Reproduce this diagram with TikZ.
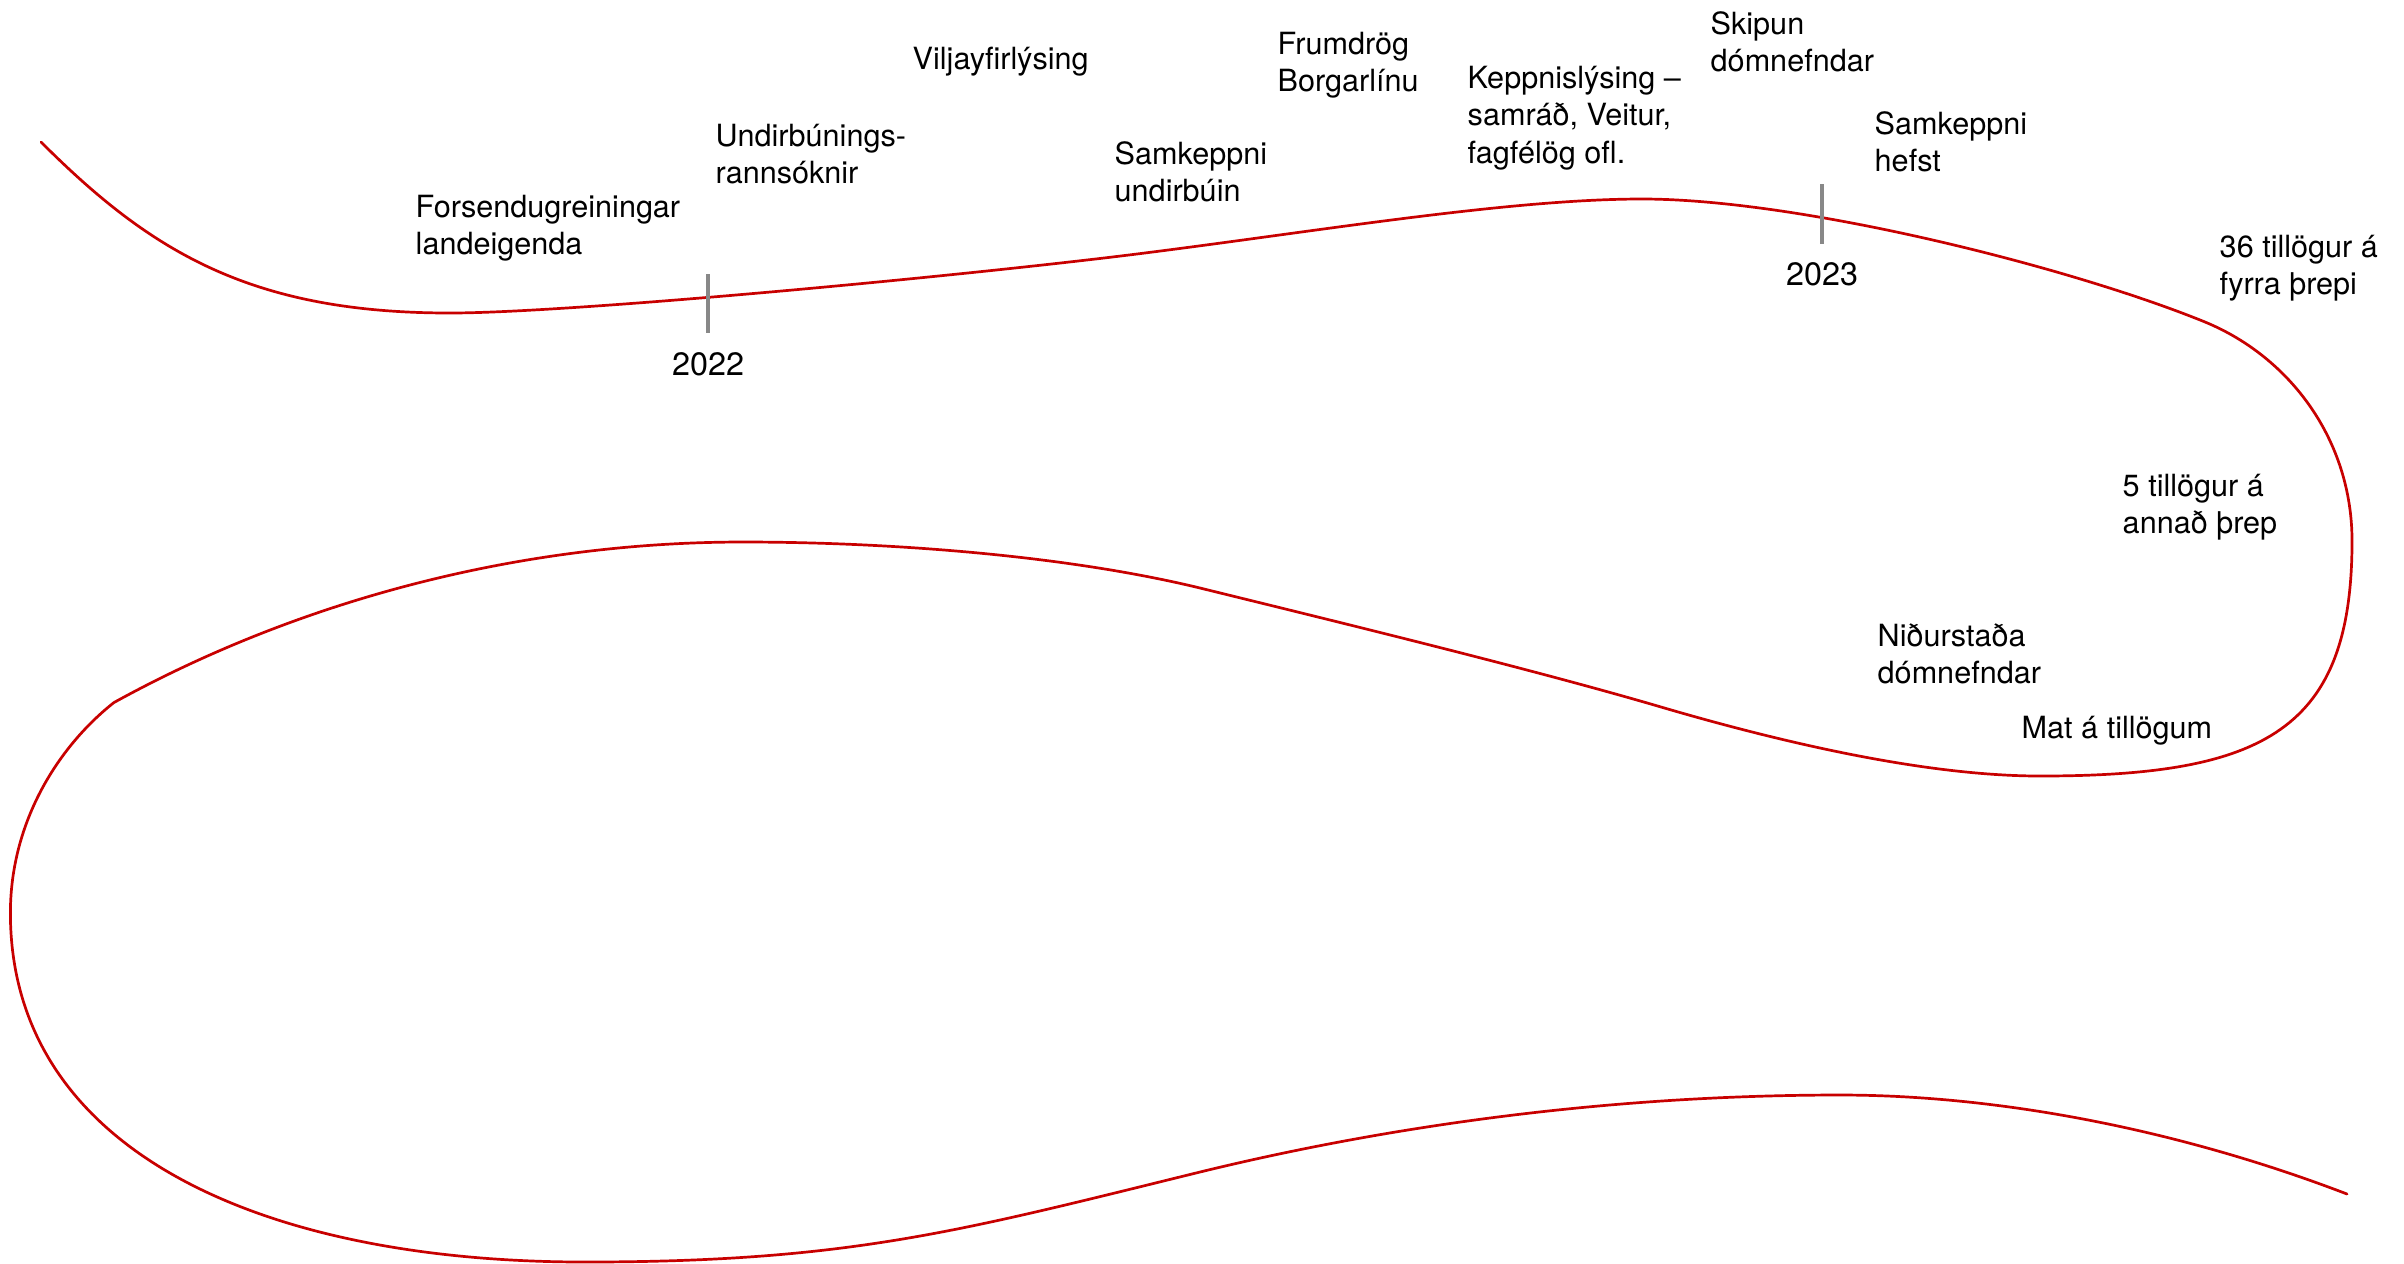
\documentclass[tikz,border=0pt]{standalone}
\usepackage{fontspec}
\setmainfont{TeX Gyre Heros}
\definecolor{curvered}{RGB}{200,0,0}
\definecolor{tickgray}{RGB}{136,136,136}
\newcommand{\mlines}[1]{\begin{tabular}[t]{@{}l@{}}#1\end{tabular}}
\begin{document}
\begin{tikzpicture}[x=0.01cm,y=-0.01cm,
  lbl/.style={anchor=base west, inner sep=0pt, font=\fontsize{8.7}{10.8}\selectfont, text=black},
  yr/.style={anchor=base, inner sep=0pt, font=\fontsize{9.2}{11}\selectfont, text=black},
  road/.style={draw=curvered, line width=0.027cm, line join=round, line cap=round},
  tickmark/.style={draw=tickgray, line width=0.04cm}]
\useasboundingbox (0,0) rectangle (2404,1263);
\fill[white] (0,0) rectangle (2404,1263);
% the timeline curve
\draw[road] (41,142) .. controls (150,251) and (250,313) .. (450,313)
 .. controls (560,313) and (900,282) .. (1104,258)
 .. controls (1290,236) and (1500,199) .. (1642,199)
 .. controls (1800,199) and (2070,267) .. (2205,322)
 .. controls (2290,357) and (2352,440) .. (2352,541)
 .. controls (2352,730) and (2265,776) .. (2040,776)
 .. controls (1920,776) and (1770,739) .. (1661,707)
 .. controls (1530,668.5) and (1330,620) .. (1200,588)
 .. controls (1060,554) and (880,542) .. (743,542)
 .. controls (520,542) and (300,600) .. (114,702.5)
 .. controls (60,745) and (10.4,820) .. (10.4,913)
 .. controls (10.4,1150) and (260,1262) .. (585,1262)
 .. controls (850,1262) and (960,1231) .. (1200,1172)
 .. controls (1380,1128) and (1600,1095) .. (1840,1095)
 .. controls (2000,1095) and (2180,1130) .. (2347,1194);
% year ticks
\coordinate (t22a) at (708,274); \coordinate (t22b) at (708,333);
\coordinate (t23a) at (1822,184); \coordinate (t23b) at (1822,244);
\draw[tickmark] (t22a) -- (t22b);
\draw[tickmark] (t23a) -- (t23b);
\node[yr] (y2022) at (708,375) {2022};
\node[yr] (y2023) at (1822,285) {2023};
% labels
\node[lbl] (forsendu) at (415,217) {\mlines{Forsendugreiningar\\landeigenda}};
\node[lbl] (undirb) at (715,146) {\mlines{Undirbúnings-\\rannsóknir}};
\node[lbl] (vilja) at (912,69) {Viljayfirlýsing};
\node[lbl] (samkundir) at (1114,164) {\mlines{Samkeppni\\undirbúin}};
\node[lbl] (frumdrog) at (1277,54) {\mlines{Frumdrög\\Borgarlínu}};
\node[lbl] (keppnis) at (1467,88) {\mlines{Keppnislýsing –\\samráð, Veitur,\\fagfélög ofl.}};
\node[lbl] (skipun) at (1710,34) {\mlines{Skipun\\dómnefndar}};
\node[lbl] (samkhefst) at (1874,134) {\mlines{Samkeppni\\hefst}};
\node[lbl] (t36) at (2219,257) {\mlines{36 tillögur á\\fyrra þrepi}};
\node[lbl] (t5) at (2122,496) {\mlines{5 tillögur á\\annað þrep}};
\node[lbl] (nidur) at (1877,646) {\mlines{Niðurstaða\\dómnefndar}};
\node[lbl] (mat) at (2021,738) {Mat á tillögum};
\end{tikzpicture}
\end{document}
